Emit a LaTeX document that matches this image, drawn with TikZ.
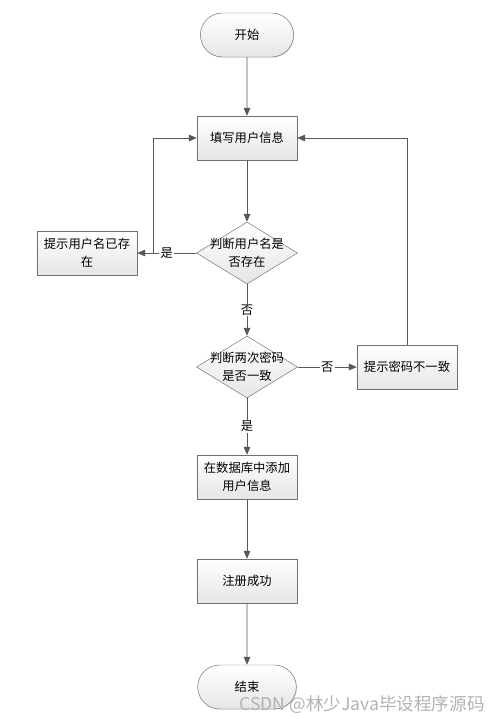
\documentclass[tikz,border=0pt]{standalone}
\usepackage{fontspec}
\newfontfamily\cjk{Noto Sans CJK SC}
\usetikzlibrary{shapes.geometric, shapes.misc, positioning, arrows.meta, shadows}
\definecolor{linegray}{HTML}{585858}
\definecolor{boxgray}{HTML}{707070}
\tikzset{node distance=3.3cm, % centre-to-centre distance of the main column
every node/.style={font=\cjk\fontsize{10.5}{15}\selectfont},
process/.style={ % rectangular steps
rectangle, draw=boxgray, top color=white, bottom color=gray!20,
minimum width=3cm, minimum height=1.32cm, align=center,
drop shadow={shadow xshift=0.6pt, shadow yshift=-0.6pt, opacity=0.25}},
terminal/.style={ % start and end
rounded rectangle, draw=boxgray, top color=white, bottom color=gray!20,
minimum width=3.03cm, minimum height=1.32cm,
drop shadow={shadow xshift=0.6pt, shadow yshift=-0.6pt, opacity=0.25}},
decision/.style={ % the two checks, text runs over the edges
diamond, draw=boxgray, top color=white, bottom color=gray!20,
minimum width=3.03cm, minimum height=1.86cm, inner sep=-0.4cm, align=center},
answer/.style={fill=white, inner sep=1pt}, % yes / no on the lines
every edge/.style={ % every connector
draw=linegray, ->, >={Triangle[length=2.4mm, width=2mm]}, semithick}}

\begin{document}
\begin{tikzpicture}

    \useasboundingbox (-7.41,1.05) rectangle (7.59,-20.52);

    \node[terminal] (start) {开始};
    \node[process, below of=start, yshift=0.21cm] (fill) {填写用户信息};
    \node[decision, below of=fill, yshift=-0.15cm] (name) {判断用户名是\\否存在};
    \node[process, left of=name, xshift=-1.5cm] (exists) {提示用户名已存\\在};
    \node[decision, below of=name, yshift=-0.12cm] (pwd) {判断两次密码\\是否一致};
    \node[process, right of=pwd, xshift=1.5cm] (differ) {提示密码不一致};
    \node[process, below of=pwd] (save) {在数据库中添加\\用户信息};
    \node[process, below of=save, yshift=0.18cm] (done) {注册成功};
    \node[terminal, below of=done, yshift=0.12cm, inner sep=1pt] (stop) {结束};
    \coordinate[right=0.48cm of exists.east] (back);

    \draw (start) edge (fill);
    \draw (fill) edge (name);
    \draw (name) edge node[answer] (yes1) {是} (exists);
    \draw[draw=linegray, semithick, -{Triangle[length=2.4mm, width=2mm]}] (back) |- (fill.west);
    \draw (name) edge node[answer] (no1) {否} (pwd);
    \draw (pwd) edge node[answer] (no2) {否} (differ);
    \draw[draw=linegray, semithick, -{Triangle[length=2.4mm, width=2mm]}] (differ.north) |- (fill.east);
    \draw (pwd) edge node[answer] (yes2) {是} (save);
    \draw (save) edge (done);
    \draw (done) edge (stop);

    \node[text=gray!60, inner sep=0pt, font=\cjk\fontsize{15}{18}\selectfont] (watermark) at (3.45,-20.08) {CSDN @林少Java毕设程序源码};

\end{tikzpicture}
\end{document}
